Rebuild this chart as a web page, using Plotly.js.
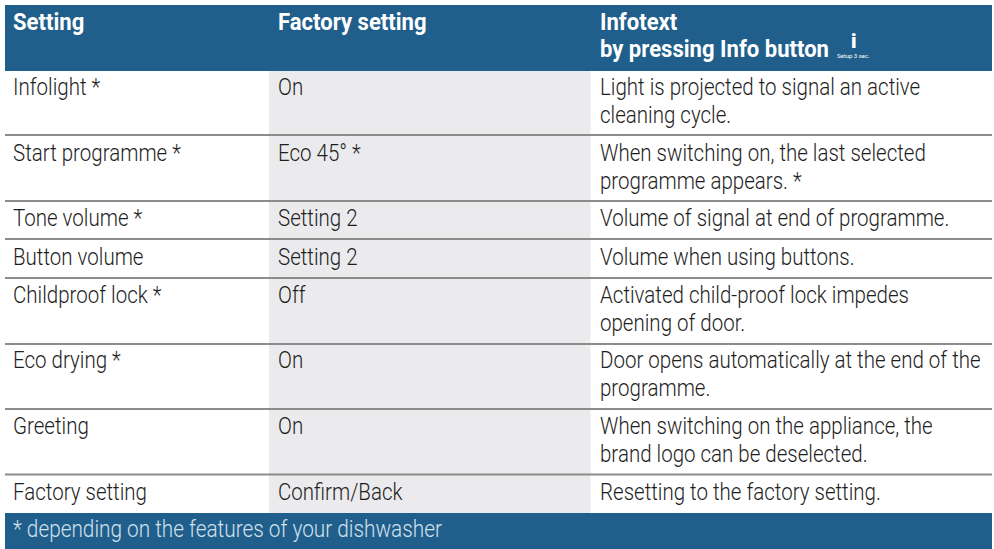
<!DOCTYPE html>
<html><head><meta charset="utf-8">
<script src="https://cdn.plot.ly/plotly-3.0.1.min.js"></script>
<style>html,body{margin:0;padding:0;background:#fff}#c{width:994px;height:549px}</style>
</head><body><div id="c"></div>
<script>
const headerLabels = ["Setting", "Factory setting", "Infotext"];
const headerLine2 = "by pressing Info button";
const settings = ["Infolight *", "Start programme *", "Tone volume *", "Button volume", "Childproof lock *", "Eco drying *", "Greeting", "Factory setting"];
const factory = ["On", "Eco 45° *", "Setting 2", "Setting 2", "Off", "On", "On", "Confirm/Back"];
const info1 = ["Light is projected to signal an active", "When switching on, the last selected", "Volume of signal at end of programme.", "Volume when using buttons.", "Activated child-proof lock impedes", "Door opens automatically at the end of the", "When switching on the appliance, the", "Resetting to the factory setting."];
const info2 = ["cleaning cycle.", "programme appears. *", "", "", "opening of door.", "programme.", "brand logo can be deselected.", ""];
const rowTextY = [87, 153, 218, 257, 295, 360, 426, 492];
const rowLines = [135, 201, 239, 278, 344, 409, 474.5];
const footer = "* depending on the features of your dishwasher";
const colX = [11, 276, 598];
const BLUE = "#205f8c", GREY = "#ebebed", LINE = "#8c8c8c", TXT = "#1e1e1e";
const FONT = "Roboto, Liberation Sans, sans-serif";
const BODY_SQUEEZE = 0.855, HEAD_SQUEEZE = 0.92;
const squeeze = [];
const ann = (x, y, text, size, color, weight, sq) => { squeeze.push(sq); return {x, y, text, xref:"x", yref:"y", xanchor:"left", yanchor:"middle", showarrow:false, align:"left", font:{family:FONT, size, color, weight}}; };
const annotations = [];
headerLabels.forEach((t,i)=>annotations.push(ann(colX[i], 22, t, 24, "#fff", 700, HEAD_SQUEEZE)));
annotations.push(ann(colX[2], 49, headerLine2, 24, "#fff", 700, HEAD_SQUEEZE));
annotations.push(ann(835, 55.5, "Setup 3 sec.", 6, "#fff", 400, 1));
annotations.push(ann(849, 40.5, "i", 20, "#fff", 900, 1));
settings.forEach((t,i)=>{
  annotations.push(ann(colX[0], rowTextY[i], t, 24, TXT, 300, BODY_SQUEEZE));
  annotations.push(ann(colX[1], rowTextY[i], factory[i], 24, TXT, 300, BODY_SQUEEZE));
  annotations.push(ann(colX[2], rowTextY[i], info1[i], 24, TXT, 300, BODY_SQUEEZE));
  if(info2[i]) annotations.push(ann(colX[2], rowTextY[i]+28, info2[i], 24, TXT, 300, BODY_SQUEEZE));
});
annotations.push(ann(colX[0], 529, footer, 24, "#d3e1eb", 300, 0.866));
const rect=(x0,x1,y0,y1,c)=>({type:"rect",xref:"x",yref:"y",x0,x1,y0,y1,fillcolor:c,line:{width:0},layer:"below"});
const shapes=[rect(269,590.5,71,513,GREY), rect(5,992,5,71,BLUE), rect(5,992,513,549,BLUE)];
rowLines.forEach(y=>shapes.push({type:"line",xref:"x",yref:"y",x0:5,x1:992,y0:y,y1:y,line:{color:LINE,width:2},layer:"below"}));
Plotly.newPlot("c",[{type:"scatter",x:[0],y:[0],mode:"none",hoverinfo:"skip",showlegend:false}],{
  width:994,height:549,margin:{l:0,r:0,t:0,b:0},paper_bgcolor:"#fff",plot_bgcolor:"#fff",
  xaxis:{range:[0,994],visible:false,fixedrange:true},yaxis:{range:[549,0],visible:false,fixedrange:true},
  shapes,annotations,showlegend:false
},{displayModeBar:false,staticPlot:true}).then(gd=>{
  gd.querySelectorAll(".annotation").forEach(g=>{
    const i=+g.getAttribute("data-index");
    const t=g.querySelector("text.annotation-text");
    if(!t||squeeze[i]===1) return;
    const x0=t.getBBox().x;
    t.setAttribute("transform","translate("+x0+",0) scale("+squeeze[i]+",1) translate("+(-x0)+",0)");
  });
});
</script></body></html>
